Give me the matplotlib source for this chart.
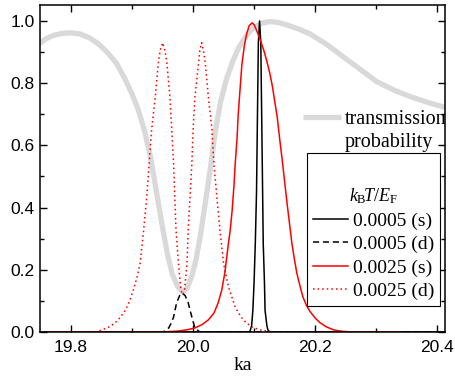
import numpy as np
import matplotlib
matplotlib.use("Agg")
import matplotlib.pyplot as plt
from matplotlib.lines import Line2D
from matplotlib.ticker import MultipleLocator, FormatStrFormatter

plt.rcParams['font.family'] = ['Liberation Sans', 'DejaVu Sans']
plt.rcParams['mathtext.fontset'] = 'custom'
plt.rcParams['mathtext.rm'] = 'Liberation Serif'
plt.rcParams['mathtext.it'] = 'Liberation Serif:italic'

# transmission probability (grey, thick)
ka_T = [19.749, 19.758, 19.770, 19.785, 19.800, 19.815, 19.830, 19.845, 19.860,
        19.875, 19.888, 19.900, 19.910, 19.920, 19.930, 19.940, 19.950, 19.958,
        19.966, 19.975, 19.983, 19.990, 19.998, 20.005, 20.012, 20.020, 20.028,
        20.036, 20.045, 20.055, 20.065, 20.075, 20.088, 20.100, 20.113, 20.126,
        20.140, 20.154, 20.172, 20.192, 20.219, 20.246, 20.275, 20.301, 20.330,
        20.356, 20.385, 20.413]
T = [0.928, 0.942, 0.953, 0.960, 0.962, 0.958, 0.946, 0.926, 0.898,
     0.862, 0.815, 0.765, 0.715, 0.650, 0.565, 0.450, 0.335, 0.250,
     0.185, 0.145, 0.128, 0.140, 0.180, 0.235, 0.310, 0.415, 0.521,
     0.640, 0.740, 0.815, 0.870, 0.915, 0.955, 0.980, 0.993, 0.998,
     0.995, 0.987, 0.975, 0.958, 0.925, 0.885, 0.843, 0.805, 0.777,
     0.757, 0.738, 0.722]

# kT/EF = 0.0005, (s)
ka_s1 = [19.749, 20.085, 20.093, 20.096, 20.098, 20.100, 20.102, 20.104, 20.105,
         20.107, 20.109, 20.111, 20.113, 20.114, 20.115, 20.117, 20.118, 20.121,
         20.123, 20.126, 20.413]
s1 = [0.0, 0.0, 0.001, 0.02, 0.07, 0.16, 0.285, 0.45, 0.61,
      0.93, 1.0, 0.93, 0.61, 0.45, 0.285, 0.16, 0.07, 0.02,
      0.005, 0.0, 0.0]

# kT/EF = 0.0005, (d)
ka_d1 = [19.749, 19.951, 19.960, 19.964, 19.968, 19.973, 19.978, 19.982,
         19.987, 19.992, 19.995, 19.998, 20.003, 20.011, 20.413]
d1 = [0.0, 0.0, 0.013, 0.028, 0.048, 0.094, 0.117, 0.125,
      0.117, 0.094, 0.07, 0.048, 0.013, 0.0, 0.0]

# kT/EF = 0.0025, (s)
ka_s2 = [19.749, 19.950, 19.975, 19.990, 20.003, 20.015, 20.025, 20.034,
         20.041, 20.047, 20.052, 20.057, 20.061, 20.064, 20.067, 20.069,
         20.072, 20.074, 20.077, 20.080, 20.084, 20.088, 20.092, 20.097,
         20.100, 20.103, 20.110, 20.116, 20.121, 20.126, 20.130, 20.134,
         20.138, 20.142, 20.146, 20.150, 20.154, 20.158, 20.162, 20.166,
         20.170, 20.175, 20.180, 20.186, 20.192, 20.200, 20.208, 20.218,
         20.230, 20.245, 20.262, 20.344]
s2 = [0.0, 0.0, 0.003, 0.007, 0.013, 0.024, 0.039, 0.060,
      0.093, 0.135, 0.19, 0.27, 0.33, 0.39, 0.47, 0.54,
      0.62, 0.70, 0.78, 0.86, 0.92, 0.96, 0.985, 0.994,
      0.988, 0.975, 0.94, 0.905, 0.87, 0.83, 0.79, 0.74,
      0.69, 0.62, 0.555, 0.485, 0.415, 0.35, 0.285, 0.235,
      0.19, 0.15, 0.113, 0.085, 0.065, 0.045, 0.03, 0.017,
      0.007, 0.002, 0.0, 0.0]

# kT/EF = 0.0025, (d)
ka_d2 = [19.749, 19.839, 19.850, 19.862, 19.872, 19.881, 19.889, 19.896,
         19.902, 19.908, 19.913, 19.919, 19.924, 19.928, 19.932, 19.938,
         19.943, 19.946, 19.950, 19.954, 19.957, 19.962, 19.965, 19.968,
         19.970, 19.972, 19.976, 19.980, 19.983, 19.986, 19.990, 19.992,
         19.995, 19.998, 20.000, 20.003, 20.009, 20.011, 20.014, 20.017,
         20.020, 20.025, 20.031, 20.034, 20.039, 20.044, 20.050, 20.058,
         20.064, 20.069, 20.076, 20.082, 20.096, 20.113, 20.134, 20.344]
d2 = [0.0, 0.0, 0.006, 0.016, 0.029, 0.048, 0.07, 0.10,
      0.135, 0.175, 0.22, 0.328, 0.434, 0.543, 0.65, 0.756,
      0.865, 0.905, 0.930, 0.905, 0.865, 0.756, 0.65, 0.543,
      0.434, 0.328, 0.22, 0.135, 0.12, 0.135, 0.22, 0.328,
      0.434, 0.543, 0.65, 0.756, 0.865, 0.905, 0.930, 0.905,
      0.865, 0.756, 0.65, 0.543, 0.434, 0.328, 0.22, 0.145,
      0.11, 0.08, 0.057, 0.039, 0.016, 0.005, 0.0, 0.0]

fig = plt.figure(figsize=(4.55, 3.78), dpi=100)
ax = fig.add_axes([0.0879, 0.1217, 0.8901, 0.8651])

lt, = ax.plot(ka_T, T, color='#d9d9d9', lw=3.8, solid_capstyle='butt')
l1, = ax.plot(ka_s1, s1, color='black', lw=1.1)
l2, = ax.plot(ka_d1, d1, color='black', lw=1.1, ls=(0, (4, 2.5)))
l3, = ax.plot(ka_s2, s2, color='red', lw=1.1)
l4, = ax.plot(ka_d2, d2, color='red', lw=1.1, ls=(0, (1, 2)))

ax.set_xlim(19.749, 20.413)
ax.set_ylim(0, 1.0514)
ax.xaxis.set_major_locator(MultipleLocator(0.2))
ax.xaxis.set_minor_locator(MultipleLocator(0.1))
ax.yaxis.set_major_locator(MultipleLocator(0.2))
ax.yaxis.set_minor_locator(MultipleLocator(0.1))
ax.xaxis.set_major_formatter(FormatStrFormatter('%.1f'))
ax.yaxis.set_major_formatter(FormatStrFormatter('%.1f'))
ax.tick_params(which='both', direction='in', top=True, right=True, width=1.0)
ax.tick_params(which='major', length=5, labelsize=12.5)
ax.tick_params(which='minor', length=3)
ax.tick_params(axis='x', pad=6)
ax.tick_params(axis='y', pad=4)
for sp in ax.spines.values():
    sp.set_linewidth(1.1)

ax.set_xlabel('ka', family='Liberation Serif', fontsize=14, labelpad=1)

blank = Line2D([], [], color='none')
leg1 = ax.legend([lt, blank], ['transmission', 'probability'],
                 loc='upper left', bbox_to_anchor=(0.649, 0.679),
                 frameon=False, borderaxespad=0, borderpad=0,
                 handlelength=1.9, handletextpad=0.2, labelspacing=0.2,
                 prop={'family': 'Liberation Serif', 'size': 14.5})
ax.add_artist(leg1)

leg2 = ax.legend([l1, l2, l3, l4],
                 ['0.0005 (s)', '0.0005 (d)', '0.0025 (s)', '0.0025 (d)'],
                 title='\n$k_{\\mathrm{B}}\\!T/E_{\\mathrm{F}}$',
                 loc='upper left', bbox_to_anchor=(0.659, 0.547),
                 borderaxespad=0, borderpad=0.3, fancybox=False,
                 edgecolor='black', framealpha=1,
                 handlelength=1.8, handletextpad=0.25, labelspacing=0.3,
                 prop={'family': 'Liberation Serif', 'size': 14},
                 title_fontproperties={'family': 'Liberation Serif', 'size': 13})
leg2.get_title().set_linespacing(1.7)
leg2.get_frame().set_linewidth(0.8)

fig.savefig('out.png', dpi=100)
